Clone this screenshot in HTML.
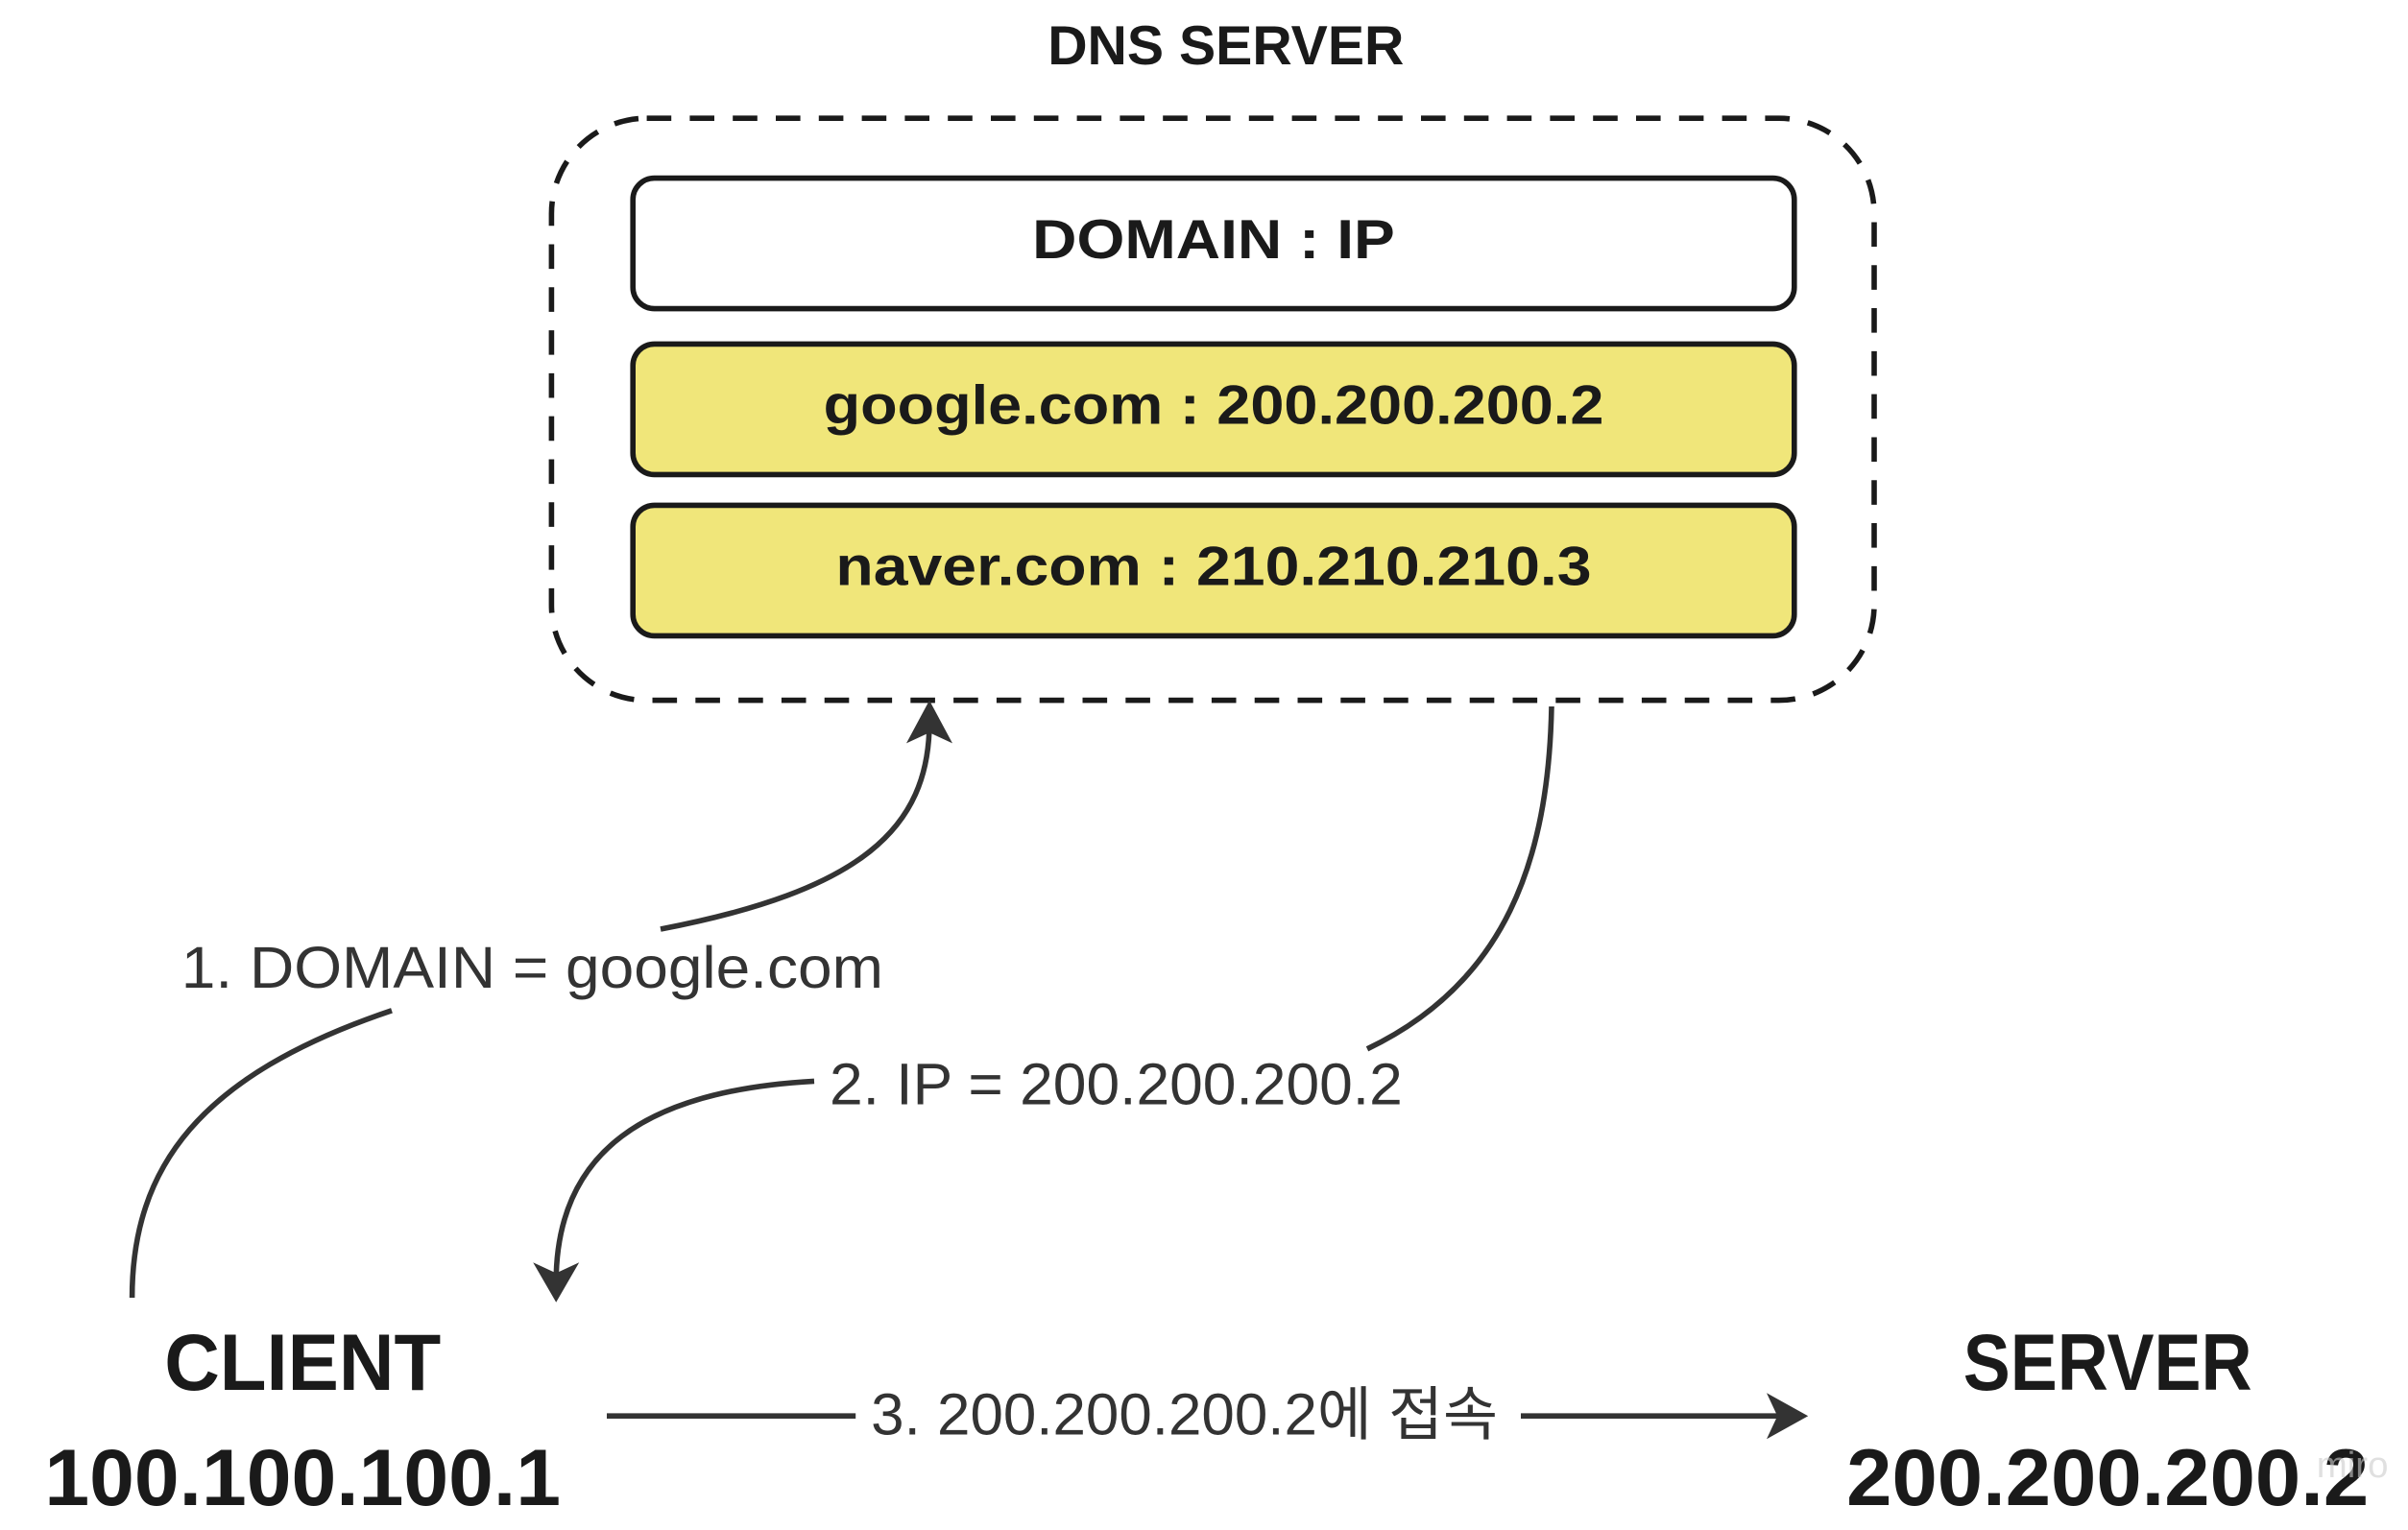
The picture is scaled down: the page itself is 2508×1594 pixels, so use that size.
<!DOCTYPE html>
<html><head><meta charset="utf-8"><style>html,body{margin:0;padding:0;background:#fff}svg{display:block}</style></head>
<body>
<svg width="2508" height="1594" viewBox="0 0 1567.5 996.25" xmlns="http://www.w3.org/2000/svg" font-family="'Liberation Sans','Noto Sans CJK KR',sans-serif">
<rect width="1567.5" height="996.25" fill="#fff"/>
<text x="798" y="42" text-anchor="middle" font-size="36" font-weight="bold" fill="#1a1a1a" textLength="232" lengthAdjust="spacingAndGlyphs">DNS SERVER</text>
<rect x="359" y="77" width="861" height="379" rx="62" fill="none" stroke="#1a1a1a" stroke-width="3.5" stroke-dasharray="16 12"/>
<rect x="412" y="116" width="756" height="85" rx="14" fill="#fff" stroke="#1a1a1a" stroke-width="3.5"/>
<text x="790" y="168" text-anchor="middle" font-size="36" font-weight="bold" fill="#1a1a1a" textLength="236" lengthAdjust="spacingAndGlyphs">DOMAIN : IP</text>
<rect x="412" y="224" width="756" height="85" rx="14" fill="#f0e67a" stroke="#1a1a1a" stroke-width="3.5"/>
<text x="790" y="276" text-anchor="middle" font-size="36" font-weight="bold" fill="#1a1a1a" textLength="508" lengthAdjust="spacingAndGlyphs">google.com : 200.200.200.2</text>
<rect x="412" y="329" width="756" height="85" rx="14" fill="#f0e67a" stroke="#1a1a1a" stroke-width="3.5"/>
<text x="790" y="381" text-anchor="middle" font-size="36" font-weight="bold" fill="#1a1a1a" textLength="492" lengthAdjust="spacingAndGlyphs">naver.com : 210.210.210.3</text>

<g fill="none" stroke="#333" stroke-width="3.5">
<path d="M86 845 C86 760 130 700 255 658"/>
<path d="M430 605 C560 580 605 540 605 470"/>
<path d="M1010 460 C1008 560 980 640 890 683"/>
<path d="M530 704 C420 710 362 750 362 835"/>
<path d="M395 922 L557 922"/>
<path d="M990 922 L1168 922"/>
</g>
<g fill="#333">
<path d="M605 456 L590 484 L605 477 L620 484 Z"/>
<path d="M362 848 L347 822 L362 829 L377 822 Z"/>
<path d="M1177 922 L1150 907 L1157 922 L1150 937 Z"/>
</g>
<text x="118" y="643" font-size="38" fill="#333" textLength="457" lengthAdjust="spacingAndGlyphs">1. DOMAIN = google.com</text>
<text x="540" y="719" font-size="38" fill="#333" textLength="373" lengthAdjust="spacingAndGlyphs">2. IP = 200.200.200.2</text>
<text x="567" y="934" font-size="38" fill="#333" textLength="408" lengthAdjust="spacingAndGlyphs">3. 200.200.200.2에 접속</text>

<text x="197" y="905" text-anchor="middle" font-size="52" font-weight="bold" fill="#1a1a1a" textLength="180" lengthAdjust="spacingAndGlyphs">CLIENT</text>
<text x="197" y="980" text-anchor="middle" font-size="52" font-weight="bold" fill="#1a1a1a" textLength="336" lengthAdjust="spacingAndGlyphs">100.100.100.1</text>
<text x="1372" y="905" text-anchor="middle" font-size="52" font-weight="bold" fill="#1a1a1a" textLength="188" lengthAdjust="spacingAndGlyphs">SERVER</text>
<text x="1372" y="980" text-anchor="middle" font-size="52" font-weight="bold" fill="#1a1a1a" textLength="340" lengthAdjust="spacingAndGlyphs">200.200.200.2</text>
<text x="1508" y="962" font-size="24" fill="#ccc" opacity="0.6">miro</text>
</svg>
</body></html>
